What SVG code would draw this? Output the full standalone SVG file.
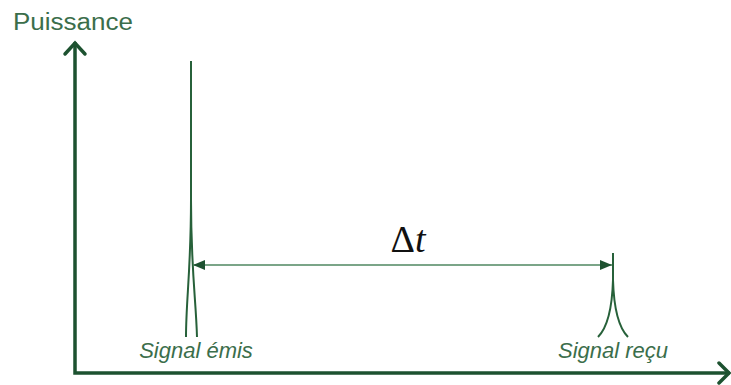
<svg xmlns="http://www.w3.org/2000/svg" width="731" height="385" viewBox="0 0 731 385">
<defs>
<style>
.axis{fill:none;stroke:#1d5230;stroke-width:3.5;stroke-linecap:square}
.head{fill:none;stroke:#1d5230;stroke-width:3.5;stroke-linecap:round;stroke-linejoin:miter}
.sig{fill:none;stroke:#27613a;stroke-width:2}
.dim{fill:none;stroke:#4f8760;stroke-width:1.6}
.lbl{font-family:"Liberation Sans",Arial,sans-serif;fill:#3b6e4b}
</style>
<marker id="ah" viewBox="0 0 12 10" refX="12" refY="5" markerWidth="13" markerHeight="10" markerUnits="userSpaceOnUse" orient="auto-start-reverse">
<path d="M0,0 L12,5 L0,10 Z" fill="#1d5230"/>
</marker>
</defs>
<rect width="731" height="385" fill="#ffffff"/>
<g id="axes">
<path class="axis" d="M75,373 L75,44 M75,373 L728,373"/>
<path class="head" d="M65,54 L75,43 L85,54"/>
<path class="head" d="M719,363 L729,373 L719,383"/>
</g>
<g id="label-puissance"><text class="lbl" x="13" y="30" font-size="23" textLength="120" lengthAdjust="spacingAndGlyphs">Puissance</text></g>
<g id="signal-emis">
<path class="sig" d="M191,61 L191,200 C191,270 186,300 186,337"/>
<path class="sig" d="M191,200 C191,270 196,300 197,337"/>
<text class="lbl" x="196" y="358" font-size="22" font-style="italic" text-anchor="middle">Signal émis</text>
</g>
<g id="signal-recu">
<path class="sig" d="M613,253 L613,280 C612,314 606,329 598,337"/>
<path class="sig" d="M613,280 C614,314 620,329 628,337"/>
<text class="lbl" x="613" y="358" font-size="22" font-style="italic" text-anchor="middle">Signal reçu</text>
</g>
<g id="connectors">
<path class="dim" d="M193,265 L612,265" marker-start="url(#ah)" marker-end="url(#ah)"/>
</g>
<g id="label-dt">
<text x="408" y="252" font-family="'Liberation Serif','Times New Roman',serif" font-size="38" fill="#111" text-anchor="middle">Δ<tspan font-style="italic">t</tspan></text>
</g>
</svg>
